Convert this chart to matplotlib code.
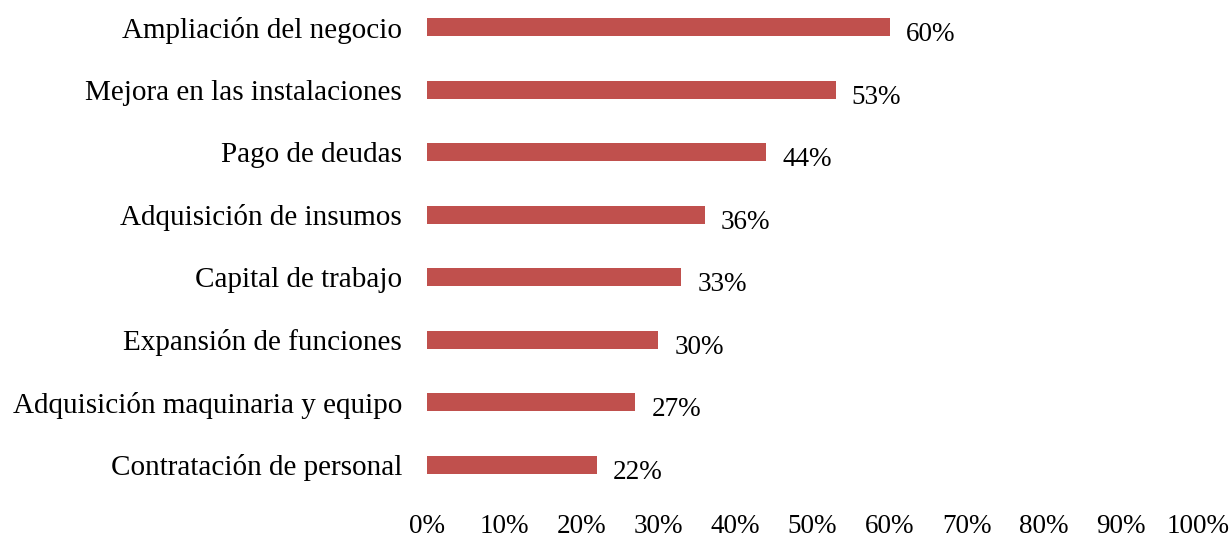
# Destino del financiamiento (barras horizontales)
import matplotlib.pyplot as plt
from matplotlib.ticker import PercentFormatter

categorias = ['Contratación de personal', 'Adquisición maquinaria y equipo',
              'Expansión de funciones', 'Capital de trabajo',
              'Adquisición de insumos', 'Pago de deudas',
              'Mejora en las instalaciones', 'Ampliación del negocio']
porcentajes = [22, 27, 30, 33, 36, 44, 53, 60]
ticks_x = [0, 10, 20, 30, 40, 50, 60, 70, 80, 90, 100]

plt.rcParams['font.family'] = ['Liberation Serif', 'DejaVu Serif']

fig = plt.figure(figsize=(12.31, 5.44), dpi=100)
ax = fig.add_axes([427 / 1231, 1 - 496 / 544, 771 / 1231, 500 / 544])

pos = range(len(categorias))
ax.barh(pos, porcentajes, height=0.29, color='#C0504D')
for y, v in zip(pos, porcentajes):
    ax.text(v + 2.1, y - 0.12, f'{v}%', va='center', ha='left', fontsize=19.5)

ax.set_xlim(0, 100)
ax.set_ylim(-0.5, len(categorias) - 0.5)
ax.set_xticks(ticks_x)
ax.xaxis.set_major_formatter(PercentFormatter(decimals=0))
ax.set_yticks(list(pos))
ax.set_yticklabels(categorias)
ax.tick_params(axis='both', length=0)
ax.tick_params(axis='x', labelsize=19.5, pad=13)
ax.tick_params(axis='y', labelsize=21, pad=18)
for s in ax.spines.values():
    s.set_visible(False)

fig.savefig('out.png', dpi=100)
